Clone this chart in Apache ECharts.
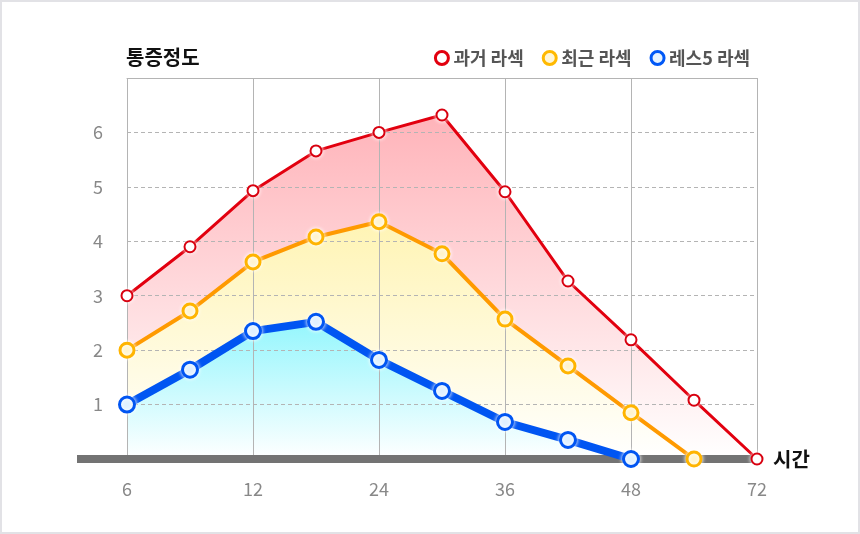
<!DOCTYPE html>
<html>
<head>
<meta charset="utf-8">
<script src="https://cdn.jsdelivr.net/npm/echarts@6/dist/echarts.min.js"></script>
<style>
  html, body { margin: 0; padding: 0; background: #fff; }
  #main { width: 860px; height: 534px; }
  #frame { position: absolute; left: 0; top: 0; width: 860px; height: 534px; box-sizing: border-box; border: 2px solid #e2e2e6; pointer-events: none; }
</style>
</head>
<body>
<div id="main"></div>
<div id="frame"></div>
<script>
// 시간 (hours) – labels shown on every other tick
var hours = ['6', '9', '12', '18', '24', '30', '36', '42', '48', '60', '72'];
var seriesNames = ['과거 라섹', '최근 라섹', '레스5 라섹'];
var pastLasek = [3.0, 3.9, 4.93, 5.66, 6.0, 6.32, 4.91, 3.27, 2.19, 1.08, 0];
var recentLasek = [2.0, 2.72, 3.62, 4.08, 4.36, 3.77, 2.57, 1.71, 0.85, 0];
var les5Lasek = [1.0, 1.64, 2.35, 2.52, 1.82, 1.25, 0.68, 0.35, 0];

var FONT = "'Noto Sans CJK KR', 'Noto Sans', sans-serif";

function grad(top) {
  return new echarts.graphic.LinearGradient(0, 0, 0, 1, [
    { offset: 0, color: top },
    { offset: 1, color: '#ffffff' }
  ]);
}

// area under each line, drawn below the grid lines
function areaSeries(name, data, top) {
  return {
    name: name, type: 'line', data: data, z: 1, silent: true,
    symbol: 'none', lineStyle: { width: 0 },
    areaStyle: { color: grad(top), opacity: 1 }
  };
}

function lineSeries(name, data, line, ring, fill, width, size, bw) {
  return {
    name: name, type: 'line', data: data, z: 3,
    symbol: 'circle', symbolSize: size,
    lineStyle: { color: line, width: width },
    itemStyle: { color: fill, borderColor: ring, borderWidth: bw, shadowColor: '#ffffff', shadowBlur: 4 }
  };
}

var myChart = echarts.init(document.getElementById('main'));
myChart.setOption({
  animation: false,
  textStyle: { fontFamily: FONT },
  title: {
    text: '통증정도', left: 121, top: 42,
    textStyle: { fontSize: 20, fontWeight: 'bold', color: '#111', fontFamily: FONT }
  },
  legend: {
    right: 105, top: 44, itemWidth: 13, itemHeight: 13, itemGap: 18, itemStyle: { borderWidth: 3 },
    icon: 'circle',
    textStyle: { fontSize: 18, fontWeight: 'bold', color: '#555', fontFamily: FONT },
    data: [
      { name: seriesNames[0], itemStyle: { color: '#ffffff', borderColor: '#e2000f', borderWidth: 3 } },
      { name: seriesNames[1], itemStyle: { color: '#fff6d6', borderColor: '#ffb900', borderWidth: 3 } },
      { name: seriesNames[2], itemStyle: { color: '#e6f3ff', borderColor: '#0058f6', borderWidth: 3 } }
    ]
  },
  grid: [
    { left: 127, right: 103, top: 78, bottom: 75 },
    { left: 77, right: 103, top: 78, bottom: 75 }
  ],
  xAxis: [
    {
      gridIndex: 0, type: 'category', data: hours, boundaryGap: false, z: 2,
      axisLine: { show: false }, axisTick: { show: false },
      axisLabel: { interval: 1, margin: 21, fontSize: 18, color: '#888' },
      splitLine: { show: true, interval: 1, lineStyle: { color: '#b4b4b4', width: 1 } }
    },
    {
      gridIndex: 1, type: 'value', min: 0, max: 1, z: 2,
      name: '시간', nameLocation: 'end', nameGap: 16,
      nameTextStyle: { fontSize: 20, fontWeight: 'bold', color: '#111', fontFamily: FONT, verticalAlign: 'middle' },
      axisLine: { show: true, lineStyle: { color: '#737373', width: 8, cap: 'butt' } },
      axisTick: { show: false }, axisLabel: { show: false }, splitLine: { show: false }
    },
    {
      gridIndex: 0, type: 'category', data: hours, position: 'top', z: 2,
      axisLine: { show: true, lineStyle: { color: '#b4b4b4', width: 1 } },
      axisTick: { show: false }, axisLabel: { show: false }, splitLine: { show: false }
    }
  ],
  yAxis: [
    {
      gridIndex: 0, type: 'value', min: 0, max: 7, interval: 1, z: 2,
      axisLine: { show: false }, axisTick: { show: false },
      axisLabel: {
        margin: 24, fontSize: 18, color: '#888',
        formatter: function (v) { return (v === 0 || v === 7) ? '' : v; }
      },
      splitLine: { show: true, lineStyle: { color: '#b4b4b4', type: [4, 3], width: 1 } }
    },
    { gridIndex: 1, type: 'value', min: 0, max: 7, show: false }
  ],
  series: [
    areaSeries(seriesNames[0], pastLasek, '#ffb3b9'),
    areaSeries(seriesNames[1], recentLasek, '#fff4b4'),
    areaSeries(seriesNames[2], les5Lasek, '#94f6fd'),
    lineSeries(seriesNames[0], pastLasek, '#e2000f', '#d8000f', '#ffffff', 3, 11, 2),
    lineSeries(seriesNames[1], recentLasek, '#ff9a00', '#ffb400', '#fff4cc', 4, 14, 3),
    lineSeries(seriesNames[2], les5Lasek, '#0055f2', '#0055f2', '#dff0ff', 8, 15, 3)
  ]
});
</script>
</body>
</html>
